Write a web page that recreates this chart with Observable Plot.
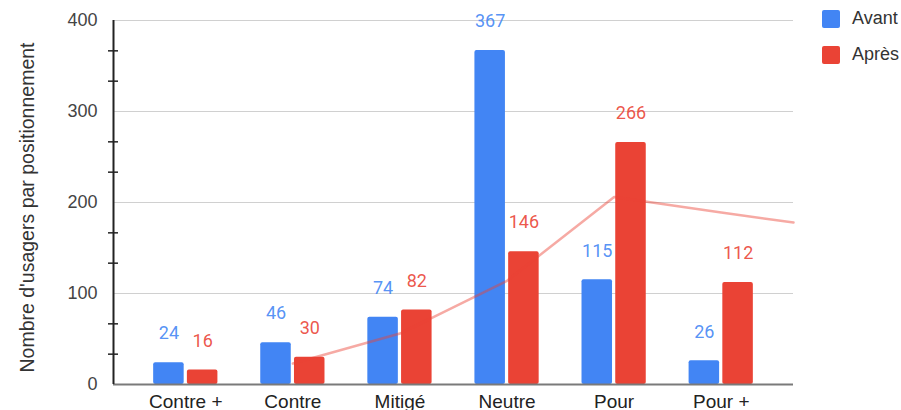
<!DOCTYPE html>
<html>
<head>
<meta charset="utf-8">
<script src="https://cdn.jsdelivr.net/npm/d3@7"></script>
<script src="https://cdn.jsdelivr.net/npm/@observablehq/plot@0.6"></script>
<style>
  html, body { margin: 0; padding: 0; background: #fff; }
  #wrap { position: relative; width: 901px; height: 410px; overflow: hidden; }
  #legend { position: absolute; left: 822px; top: 9px; font-family: "Liberation Sans", Arial, sans-serif; font-size: 18px; color: #333; }
  .item { display: flex; align-items: center; height: 19px; margin-bottom: 17px; }
  .sw { width: 18px; height: 18px; border-radius: 2px; margin-right: 12px; }
</style>
</head>
<body>
<div id="wrap"><div id="legend"></div></div>
<script>
const categories = ["Contre +", "Contre", "Mitigé", "Neutre", "Pour", "Pour +"];
const avant = [24, 46, 74, 367, 115, 26];
const apres = [16, 30, 82, 146, 266, 112];
const seriesNames = ["Avant", "Après"];
const seriesColors = ["#4285F4", "#EA4335"];
const yTicks = [0, 100, 200, 300, 400];
const yTitle = "Nombre d'usagers par positionnement";
// moving-average style trend line drawn over "Après"
const trendCats = ["Contre", "Mitigé", "Neutre", "Pour", "Pour +"];
const trendValues = [23, 56, 114, 206, 189];
const trendEndValue = 178;

const xDomain = [-0.675, categories.length - 1 + 0.675];
const rows = categories.flatMap((c, i) => [
  {cat: c, i, series: "Avant", value: avant[i]},
  {cat: c, i, series: "Après", value: apres[i]}
]);
const trend = trendCats.map((c, k) => ({x: categories.indexOf(c), y: trendValues[k]}))
  .concat([{x: xDomain[1], y: trendEndValue}]);
const minorTicks = d3.range(0, 400, 100 / 3).filter(v => Math.abs(v % 100) > 1 && Math.abs(v % 100 - 100) > 1);

const x1 = d => d.series === "Avant" ? d.i - 0.30 : d.i + 0.015;
const x2 = d => d.series === "Avant" ? d.i - 0.015 : d.i + 0.30;

const chart = Plot.plot({
  width: 901,
  height: 410,
  marginLeft: 113,
  marginRight: 108,
  marginTop: 20,
  marginBottom: 26,
  style: {fontFamily: "'Liberation Sans', Arial, sans-serif", background: "#fff", overflow: "visible"},
  x: {type: "linear", domain: xDomain},
  y: {domain: [0, 400]},
  color: {domain: seriesNames, range: seriesColors},
  marks: [
    Plot.gridY(yTicks.filter(v => v > 0), {stroke: "#d0d0d0", strokeOpacity: 1, strokeWidth: 1.2}),
    Plot.rectY(rows, {x1, x2, y1: 0, y2: "value", fill: "series", rx: 2}),
    Plot.line(trend, {x: "x", y: "y", stroke: "#EA4335", strokeOpacity: 0.45, strokeWidth: 2.5}),
    Plot.text(rows, {x: d => (x1(d) + x2(d)) / 2, y: "value", text: d => String(d.value), fill: "series",
      dy: -29, fontSize: 18, fontFamily: "Roboto, sans-serif", fillOpacity: 0.9}),
    Plot.ruleY([0], {stroke: "#7a7a7a", strokeWidth: 2}),
    Plot.ruleX([xDomain[0]], {stroke: "#222", strokeWidth: 2}),
    Plot.axisY(minorTicks, {tickSize: 10, dx: 5, tickFormat: () => "", stroke: "#222", strokeWidth: 1.5}),
    Plot.axisY(yTicks, {tickSize: 0, tickPadding: 16, fontSize: 18, fill: "#444", label: null}),
    Plot.axisX(d3.range(categories.length), {tickSize: 0, tickPadding: 10, fontSize: 19, fill: "#222",
      tickFormat: i => categories[i], label: null}),
    Plot.text([yTitle], {frameAnchor: "left", textAnchor: "middle", rotate: -90, dx: -86, dy: 5, fontSize: 19.5, fill: "#333"})
  ]
});
document.getElementById("wrap").prepend(chart);

const legend = document.getElementById("legend");
seriesNames.forEach((s, k) => {
  const item = document.createElement("div");
  item.className = "item";
  const sw = document.createElement("div");
  sw.className = "sw";
  sw.style.background = seriesColors[k];
  const t = document.createElement("span");
  t.textContent = s;
  item.append(sw, t);
  legend.append(item);
});
</script>
</body>
</html>
